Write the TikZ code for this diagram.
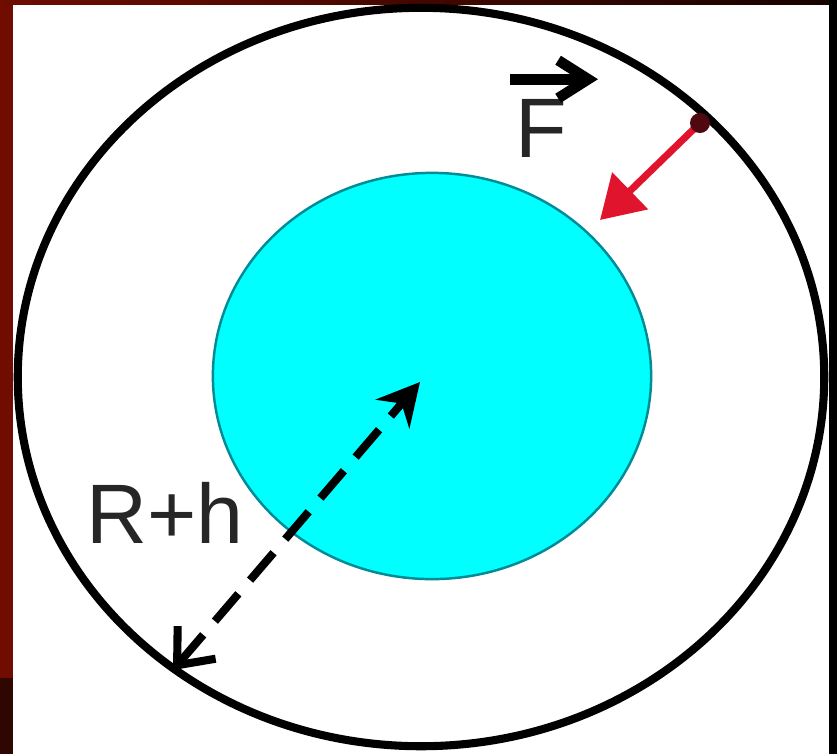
\documentclass[tikz,border=0pt]{standalone}
\usepackage{fontspec}
\setmainfont{Liberation Sans}
\usetikzlibrary{arrows.meta}
\definecolor{bgmaroon}{RGB}{112, 12, 0}
\definecolor{bgdark}{RGB}{48, 6, 0}
\definecolor{earthcyan}{RGB}{0, 255, 255}
\definecolor{earthedge}{RGB}{0, 140, 150}
\definecolor{forcered}{RGB}{225, 20, 45}

\begin{document}
\begin{tikzpicture}[
    x=0.01cm, y=-0.01cm,
    orbit/.style={draw=black, line width=2.3pt},
    earth/.style={fill=earthcyan, draw=earthedge, line width=0.7pt},
    txt/.style={font=\fontsize{24}{28}\selectfont, text=black!85, inner sep=0pt},
    forcearrow/.style={-{Triangle[length=0.42cm, width=0.5cm]}, draw=forcered, line width=2pt},
    radiusarrow/.style={{Straight Barb[length=0.3cm, width=0.5cm]}-{Stealth[length=0.42cm, width=0.44cm]}, line width=2.3pt, dash pattern=on 0.36cm off 0.18cm},
    vecarrow/.style={-{Straight Barb[length=0.3cm, width=0.38cm]}, line width=3pt}
]
    % Background frame
    \fill[bgmaroon] (0,0) rectangle (837,754);
    \shade[left color=bgmaroon, right color=black!80!bgmaroon] (0,0) rectangle (837,5);
    \fill[black] (829,0) rectangle (837,754);
    \fill[bgdark] (0,678) rectangle (13,754);
    \fill[white] (13,5) rectangle (829,754);

    % Orbit and Earth
    \draw[orbit] (421,377) ellipse [x radius=4.03cm, y radius=3.69cm];
    \filldraw[earth] (432,376) ellipse [x radius=2.19cm, y radius=2.03cm];

    % Points
    \coordinate (contact) at (700,123);
    \coordinate (surface) at (600,220);
    \coordinate (foot) at (173,670);
    \coordinate (core) at (420,382);

    % Labels
    \node[txt, anchor=base west] (F) at (515,157) {F};
    \node[txt, anchor=base west] (Rh) at (86,543) {R+h};

    % Arrows
    \draw[forcearrow] (contact) -- (surface);
    \fill[black!65!forcered] (contact) circle [radius=0.1cm];
    \draw[radiusarrow] (foot) -- (core);
    \draw[vecarrow] ([xshift=-0.05cm, yshift=0.19cm]F.north west) -- ([xshift=0.3cm, yshift=0.19cm]F.north east);
\end{tikzpicture}
\end{document}
